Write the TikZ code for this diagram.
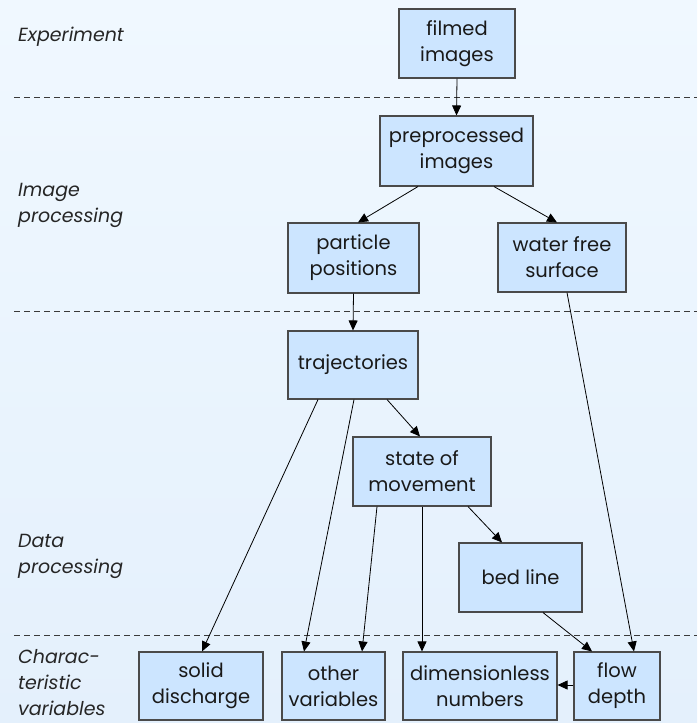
\documentclass[tikz,border=0pt]{standalone}
\usepackage{fontspec}
\setmainfont{Poppins}
\usetikzlibrary{arrows.meta,calc}
\definecolor{bgtop}{HTML}{F0F8FF}
\definecolor{bgbot}{HTML}{E4F0FC}
\definecolor{boxfill}{HTML}{CCE5FF}
\definecolor{boxline}{HTML}{4A4A4A}
\definecolor{dashcol}{HTML}{3A3A3A}
\tikzset{
  box/.style={draw=boxline, fill=boxfill, line width=1.1pt, inner sep=0pt, align=center,
    font=\fontsize{19.5}{26}\selectfont, text=black!90},
  lbl/.style={anchor=west, align=left, inner sep=0pt, font=\fontsize{19}{26}\selectfont\itshape, text=black!85},
  arr/.style={-{Triangle[length=10pt,width=9pt]}, line width=0.8pt, black},
  sep/.style={dashcol, line width=0.8pt, dash pattern=on 6pt off 4pt}
}
\begin{document}
\begin{tikzpicture}[x=1pt,y=-1pt]
\shade[top color=bgtop, bottom color=bgbot] (0,0) rectangle (697,723);
\useasboundingbox (0,0) rectangle (697,723);
% separators
\coordinate (s1a) at (14,97);  \coordinate (s1b) at (697,97);
\coordinate (s2a) at (14,311); \coordinate (s2b) at (697,311);
\coordinate (s3a) at (14,635); \coordinate (s3b) at (697,635);
\draw[sep] (s1a) -- (s1b);
\draw[sep] (s2a) -- (s2b);
\draw[sep] (s3a) -- (s3b);
% labels
\node[lbl] (lexp) at (18,37) {Experiment};
\node[lbl] (limg) at (18,205) {Image\\processing};
\node[lbl] (ldat) at (18,556) {Data\\processing};
\node[lbl] (lchr) at (18,683) {Charac-\\teristic\\variables};
% boxes
\node[box, minimum width=116pt, minimum height=69pt] (film) at (457,43.5) {filmed\\images};
\node[box, minimum width=153pt, minimum height=70pt] (pre) at (456.5,151) {preprocessed\\images};
\node[box, minimum width=131pt, minimum height=70pt] (part) at (353.5,258) {particle\\positions};
\node[box, minimum width=128pt, minimum height=69pt] (water) at (562,257.5) {water free\\surface};
\node[box, minimum width=130pt, minimum height=68pt] (traj) at (353,365) {trajectories};
\node[box, minimum width=138pt, minimum height=69pt] (state) at (422,471.5) {state of\\movement};
\node[box, minimum width=123pt, minimum height=69pt] (bed) at (520.5,577.5) {bed line};
\node[box, minimum width=124pt, minimum height=68pt] (solid) at (201,686) {solid\\discharge};
\node[box, minimum width=103pt, minimum height=68pt] (other) at (333.5,686) {other\\variables};
\node[box, minimum width=154pt, minimum height=68pt] (dim) at (480,686) {dimensionless\\numbers};
\node[box, minimum width=86pt, minimum height=68pt] (flow) at (617,686) {flow\\depth};
% connectors
\draw[arr] (film.south) -- (pre.north);
\draw[arr] ([xshift=-38.5pt]pre.south) -- ([xshift=4.5pt]part.north);
\draw[arr] ([xshift=37.5pt]pre.south) -- ([xshift=-5pt]water.north);
\draw[arr] (part.south) -- (traj.north);
\draw[arr] ([xshift=5pt]water.south) -- ([xshift=17pt]flow.north);
\draw[arr] ([xshift=-35pt]traj.south) -- ([xshift=1pt]solid.north);
\draw[arr] ([xshift=1pt]traj.south) -- ([xshift=-29.5pt]other.north);
\draw[arr] ([xshift=34pt]traj.south) -- ([xshift=-2pt]state.north);
\draw[arr] ([xshift=-45pt]state.south) -- ([xshift=28.5pt]other.north);
\draw[arr] (state.south) -- ([xshift=-58pt]dim.north);
\draw[arr] ([xshift=46pt]state.south) -- ([xshift=-18.5pt]bed.north);
\draw[arr] ([xshift=22.5pt]bed.south) -- ([xshift=-25pt]flow.north);
\draw[arr] ([yshift=1pt]flow.west) -- ([yshift=1pt]dim.east);
\end{tikzpicture}
\end{document}
